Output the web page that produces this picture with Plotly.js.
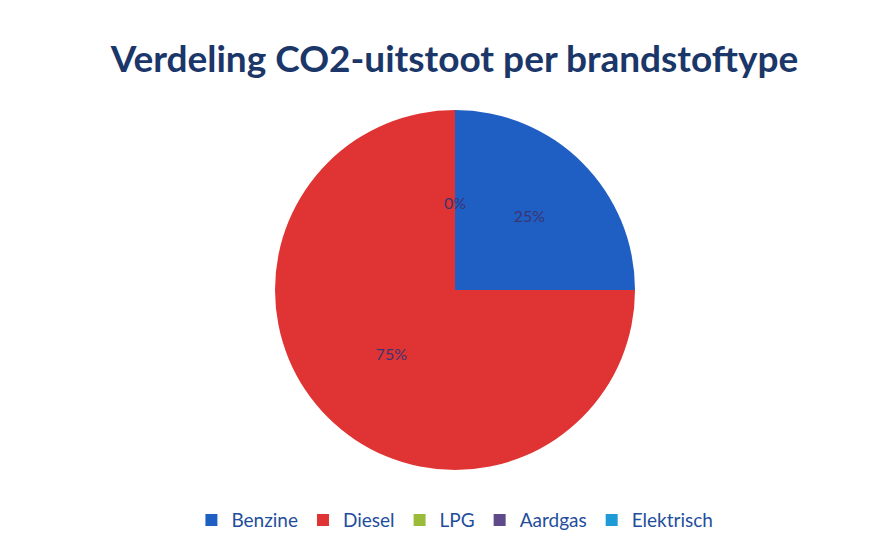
<!DOCTYPE html>
<html><head><meta charset="utf-8">
<script src="https://cdn.plot.ly/plotly-3.0.1.min.js"></script>
<style>html,body{margin:0;padding:0;background:#fff}</style>
</head><body>
<div id="chart" style="width:892px;height:551px"></div>
<script>
const categories = ["Benzine", "Diesel", "LPG", "Aardgas", "Elektrisch"];
const values = [25, 75, 0, 0, 0];
const colors = ["#1f5fc4", "#e03434", "#9bbb3b", "#5f4b8b", "#1e9ad6"];

const total = values.reduce((a, b) => a + b, 0);
const zeroPct = Math.round(100 * values[2] / total) + "%";

const trace = {
  type: "pie",
  labels: categories,
  values: values,
  sort: false,
  direction: "clockwise",
  rotation: 0,
  marker: {colors: colors, line: {width: 0}},
  textinfo: "percent",
  texttemplate: "%{percent:.0%}",
  textposition: "inside",
  insidetextorientation: "horizontal",
  textfont: {family: "Lato, sans-serif", size: 16, color: "#3b3470"},
  domain: {x: [0.3083, 0.7119], y: [0.147, 0.8004]},
  showlegend: true,
  hoverinfo: "label+percent"
};

const layout = {
  width: 892, height: 551,
  margin: {l: 0, r: 0, t: 0, b: 0},
  paper_bgcolor: "#ffffff",
  title: {
    text: "<b>Verdeling CO2-uitstoot per brandstoftype</b>",
    font: {family: "Lato, sans-serif", size: 37, color: "#1b3668"},
    x: 0.5095, xanchor: "center", y: 0.893, yanchor: "middle"
  },
  legend: {
    orientation: "h", x: 0.51, xanchor: "center", y: 0.056, yanchor: "middle",
    font: {family: "Lato, sans-serif", size: 19, color: "#1f4e9c"},
    itemwidth: 20, traceorder: "normal"
  },
  annotations: [{
    text: zeroPct, showarrow: false, xref: "paper", yref: "paper",
    x: 455 / 892, y: 1 - 202 / 551, xanchor: "center", yanchor: "middle",
    font: {family: "Lato, sans-serif", size: 16, color: "#3b3470"}
  }]
};

Plotly.newPlot("chart", [trace], layout, {displayModeBar: false});
</script>
</body></html>
